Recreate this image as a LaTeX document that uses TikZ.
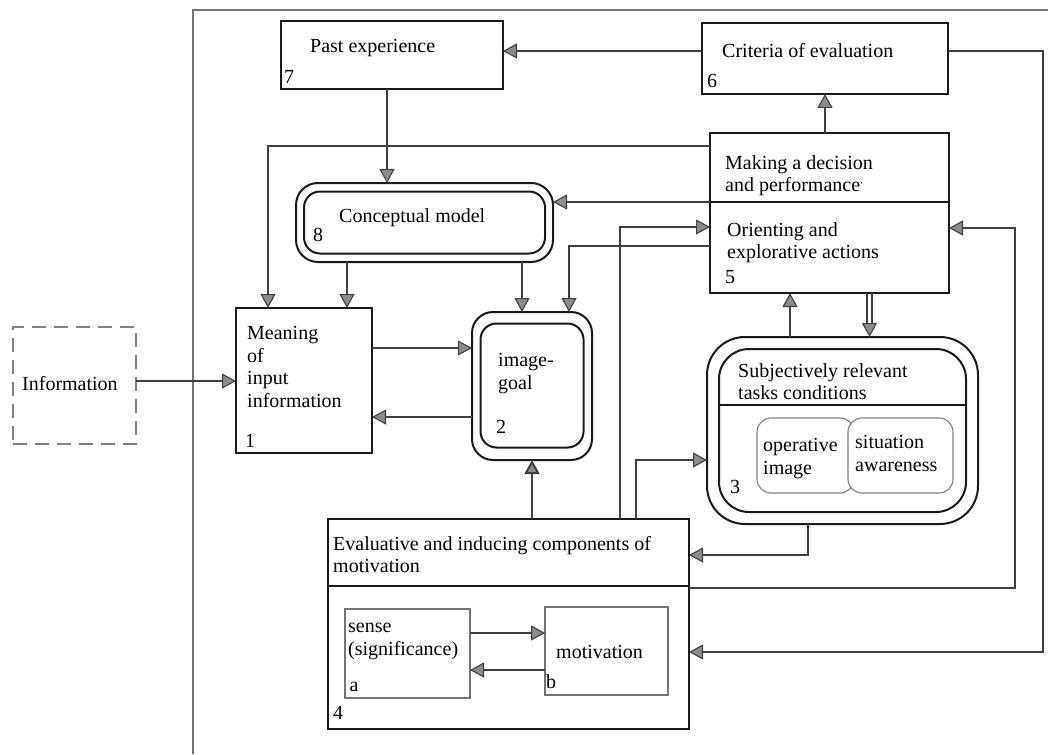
\documentclass[tikz,border=0pt]{standalone}
\usepackage{fontspec}
\setmainfont{Liberation Serif}
\usetikzlibrary{arrows.meta}
\begin{document}
\begin{tikzpicture}[x=1pt,y=-1pt,
  box/.style={draw=black!90, line width=2pt, inner sep=0pt, outer sep=0pt},
  rbox/.style={box, rounded corners=#1},
  thin box/.style={draw=black!55, line width=1.3pt, inner sep=0pt, outer sep=0pt},
  soft box/.style={draw=black!50, line width=1.1pt, rounded corners=14pt, fill=white, inner sep=0pt, outer sep=0pt},
  dash box/.style={draw=black!50, line width=1.3pt, dash pattern=on 14pt off 8pt, inner sep=0pt, outer sep=0pt},
  frame/.style={draw=black!55, line width=1.3pt},
  conn/.style={draw=black!75, line width=1.1pt},
  arr/.style={conn, -{Triangle[length=14pt,width=15pt,fill=black!45]}},
  txt/.style={inner sep=0pt, anchor=west, text height=14pt, text depth=4pt, font=\fontsize{20}{22.7}\selectfont},
  mtxt/.style={inner sep=0pt, anchor=north west, align=left, font=\fontsize{20}{22.7}\selectfont},
  num/.style={inner sep=0pt, anchor=center, font=\fontsize{20}{22.7}\selectfont}
]
\useasboundingbox (0,0) rectangle (1048,754);
% outer frame
\draw[frame] (1048,10) -- (193,10) -- (193,754);

% boxes
\node[dash box, minimum width=123pt, minimum height=117pt] (info) at (74.5,385.5) {};
\node[box, minimum width=222pt, minimum height=68pt] (pe) at (392,55) {};
\node[box, minimum width=246pt, minimum height=71pt] (cr) at (825,58.5) {};
\node[box, minimum width=239pt, minimum height=160pt] (dec) at (829.5,213) {};
\node[rbox=22pt, minimum width=257pt, minimum height=79pt] (cm) at (424.5,222.5) {};
\node[rbox=16pt, minimum width=241pt, minimum height=62pt] (cmi) at (424.5,222.5) {};
\node[box, minimum width=136pt, minimum height=145pt] (meaning) at (304,380.5) {};
\node[rbox=21pt, minimum width=120pt, minimum height=148pt] (ig) at (532,386) {};
\node[rbox=16pt, minimum width=103pt, minimum height=124pt] (igi) at (532,385.5) {};
\node[rbox=38pt, minimum width=271pt, minimum height=187pt] (sr) at (842.5,430.5) {};
\node[rbox=30pt, minimum width=247pt, minimum height=163pt] (sri) at (842.5,430.5) {};
\node[soft box, minimum width=97pt, minimum height=75pt] (op) at (805.5,455.5) {};
\node[soft box, minimum width=105pt, minimum height=75pt] (sa) at (900.5,455.5) {};
\node[box, minimum width=361pt, minimum height=210pt] (ev) at (508.5,624) {};
\node[thin box, minimum width=125pt, minimum height=89pt] (sa4) at (407.5,653.5) {};
\node[thin box, minimum width=123pt, minimum height=88pt] (mo4) at (606.5,651) {};

% dividers
\draw[box] (dec.west |- 0,202) -- (dec.east |- 0,202);
\draw[box] (sri.west |- 0,405) -- (sri.east |- 0,405);
\draw[box] (ev.west |- 0,586) -- (ev.east |- 0,586);

% texts
\node[txt] (t-info) at (22,385) {Information};
\node[txt] (t-pe) at (310,48) {Past experience};
\node[num] (n-pe) at (289,77) {7};
\node[txt] (t-cr) at (722,53) {Criteria of evaluation};
\node[num] (n-cr) at (712,81) {6};
\node[mtxt] (t-dec) at (725,155) {Making a decision\\and performance\raisebox{3pt}{\fontsize{9}{9}\selectfont'}};
\node[mtxt] (t-or) at (727,222) {Orienting and\\explorative actions};
\node[num] (n-dec) at (730,277) {5};
\node[txt] (t-cm) at (339,217) {Conceptual model};
\node[num] (n-cm) at (318,235) {8};
\node[mtxt] (t-me) at (247,326) {Meaning\\of\\input\\information};
\node[num] (n-me) at (250,441) {1};
\node[mtxt] (t-ig) at (498,353) {image-\\goal};
\node[num] (n-ig) at (501,427) {2};
\node[mtxt] (t-sr) at (738,363) {Subjectively relevant\\tasks conditions};
\node[mtxt] (t-op) at (763,438) {operative\\image};
\node[mtxt] (t-sa) at (855,435) {situation\\awareness};
\node[num] (n-sr) at (735,487) {3};
\node[mtxt] (t-ev) at (333,536) {Evaluative and inducing components of\\motivation};
\node[num] (n-ev) at (338,713) {4};
\node[mtxt] (t-sa4) at (348,623) {sense\\(significance)};
\node[num] (n-sa4) at (354,687) {a};
\node[txt] (t-mo4) at (556,653) {motivation};
\node[num] (n-mo4) at (551,682) {b};

% connectors
\draw[arr] (info.east |- 0,381) -- (meaning.west |- 0,381);
\draw[arr] (pe.south -| 387,0) -- (cm.north -| 387,0);
\draw[arr] (dec.west |- 0,146) -| (meaning.north -| 268,0);
\draw[arr] (cm.south -| 347,0) -- (meaning.north -| 347,0);
\draw[arr] (cm.south -| 522,0) -- (ig.north -| 522,0);
\draw[arr] (dec.west |- 0,202) -- (cm.east |- 0,202);
\draw[arr] (dec.west |- 0,246) -| (ig.north -| 569,0);
\draw[arr] (ev.north -| 620,0) |- (dec.west |- 0,227);
\draw[arr] (ev.north -| 636,0) |- (sr.west |- 0,460);
\draw[arr, line width=2pt] (ev.north -| 532,0) -- (ig.south -| 532,0);
\draw[arr] (meaning.east |- 0,348) -- (ig.west |- 0,348);
\draw[arr] (ig.west |- 0,417) -- (meaning.east |- 0,417);
\draw[arr] (sr.north -| 790,0) -- (dec.south -| 790,0);
\draw[conn, shorten >=13pt] (dec.south -| 867,0) -- (sr.north -| 867,0);
\draw[conn, shorten >=13pt] (dec.south -| 872,0) -- (sr.north -| 872,0);
\draw[arr, shorten <=30pt] (dec.south -| 869.5,0) -- (sr.north -| 869.5,0);
\draw[arr] (dec.north -| 825,0) -- (cr.south -| 825,0);
\draw[arr] (cr.west |- 0,51) -- (pe.east |- 0,51);
\draw[arr] (sr.south -| 808,0) |- (ev.east |- 0,555);
\draw[arr] (ev.east |- 0,588) -| (1015,228) -- (dec.east |- 0,228);
\draw[arr] (cr.east |- 0,51) -| (1043,652) -- (ev.east |- 0,652);
\draw[arr] (sa4.east |- 0,633) -- (mo4.west |- 0,633);
\draw[arr] (mo4.west |- 0,670) -- (sa4.east |- 0,670);
\end{tikzpicture}
\end{document}
